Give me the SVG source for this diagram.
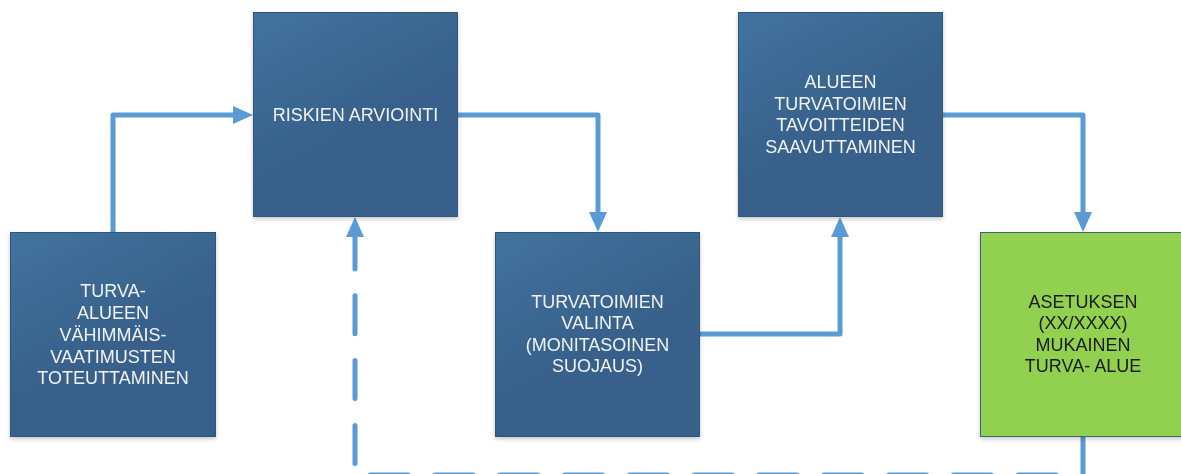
<svg xmlns="http://www.w3.org/2000/svg" width="1181" height="474" viewBox="0 0 1181 474">
<style>
.box{fill:url(#bg);stroke:#2F5679;stroke-width:1}
.green{fill:#92D050;stroke:#3E6487;stroke-width:1}
.t{font-family:"Liberation Sans",Arial,sans-serif;font-size:18px;text-anchor:middle;fill:#F2F2F2}
.tg{font-family:"Liberation Sans",Arial,sans-serif;font-size:18px;text-anchor:middle;fill:#1A1A1A}
.c{fill:none;stroke:#5B9BD5;stroke-width:5;stroke-linejoin:round;stroke-linecap:round}
.d{fill:none;stroke:#5B9BD5;stroke-width:5;stroke-linejoin:round;stroke-linecap:round;stroke-dasharray:38 26.8}
</style>
<defs>
<linearGradient id="bg" x1="0" y1="0" x2="0.35" y2="0.65">
<stop offset="0" stop-color="#42729F"/>
<stop offset="1" stop-color="#37618A"/>
</linearGradient>
<filter id="sh" x="-10%" y="-10%" width="120%" height="120%">
<feDropShadow dx="0" dy="2" stdDeviation="2" flood-color="#000" flood-opacity="0.22"/>
</filter>
<marker id="ah" markerUnits="userSpaceOnUse" markerWidth="20" markerHeight="18" refX="0" refY="9" orient="auto">
<path d="M0,0 L20,9 L0,18 Z" fill="#5B9BD5"/>
</marker>
</defs>
<rect width="1181" height="474" fill="#FFFFFF"/>
<g id="connectors">
<path class="c" d="M113,232 L113,115 L233,115" marker-end="url(#ah)"/>
<path class="c" d="M458,115 L598,115 L598,212" marker-end="url(#ah)"/>
<path class="c" d="M700,334 L840,334 L840,237" marker-end="url(#ah)"/>
<path class="c" d="M943,115 L1083,115 L1083,212" marker-end="url(#ah)"/>
<path class="d" d="M1083,437 L1083,475 L355,475 L355,237" marker-end="url(#ah)"/>
</g>
<g id="n1" filter="url(#sh)">
<rect class="box" x="10.5" y="232.5" width="205" height="204"/>
<text class="t"><tspan x="113" y="297">TURVA-</tspan><tspan x="113" y="319">ALUEEN</tspan><tspan x="113" y="341">VÄHIMMÄIS-</tspan><tspan x="113" y="362.5">VAATIMUSTEN</tspan><tspan x="113" y="384">TOTEUTTAMINEN</tspan></text>
</g>
<g id="n2" filter="url(#sh)">
<rect class="box" x="253.5" y="12.5" width="204" height="204"/>
<text class="t" x="355.5" y="121">RISKIEN ARVIOINTI</text>
</g>
<g id="n3" filter="url(#sh)">
<rect class="box" x="495.5" y="232.5" width="204" height="204"/>
<text class="t"><tspan x="597.5" y="307.5">TURVATOIMIEN</tspan><tspan x="597.5" y="329">VALINTA</tspan><tspan x="597.5" y="350.5">(MONITASOINEN</tspan><tspan x="597.5" y="372">SUOJAUS)</tspan></text>
</g>
<g id="n4" filter="url(#sh)">
<rect class="box" x="738.5" y="12.5" width="204" height="204"/>
<text class="t"><tspan x="840.5" y="88">ALUEEN</tspan><tspan x="840.5" y="109.5">TURVATOIMIEN</tspan><tspan x="840.5" y="131">TAVOITTEIDEN</tspan><tspan x="840.5" y="152.5">SAAVUTTAMINEN</tspan></text>
</g>
<g id="n5" filter="url(#sh)">
<rect class="green" x="980.5" y="232.5" width="205" height="204"/>
<text class="tg"><tspan x="1083" y="307.5">ASETUKSEN</tspan><tspan x="1083" y="329">(XX/XXXX)</tspan><tspan x="1083" y="350.5">MUKAINEN</tspan><tspan x="1083" y="372">TURVA- ALUE</tspan></text>
</g>
</svg>
